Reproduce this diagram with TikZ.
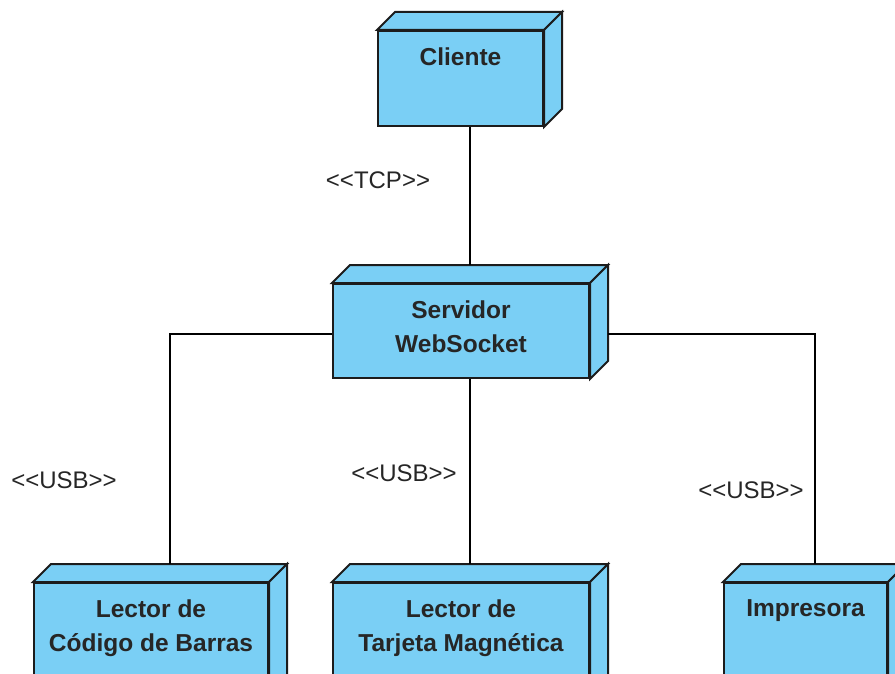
\documentclass[tikz,border=0pt]{standalone}
\usepackage{fontspec}
\setmainfont{Liberation Sans}
\newfontfamily\lblfont{Liberation Sans}
\definecolor{nodefill}{RGB}{122,207,245}
\definecolor{edgeline}{RGB}{28,28,28}
\tikzset{
  face/.style={draw=edgeline, line width=2pt, fill=nodefill, line join=miter},
  frontface/.style={face, rectangle, inner sep=0pt, anchor=north west},
  boxtext/.style={inner sep=0pt, anchor=north, align=center,
    font=\bfseries\fontsize{24.5}{34}\selectfont, text=black!85},
  conn/.style={draw=black, line width=1.6pt},
  stereo/.style={inner sep=0pt, font=\lblfont\fontsize{24}{28}\selectfont, text=black!85}
}
% UML node: front face at (x,y) with width w and height h, plus top and side faces
\newcommand{\umlnode}[6]{%
  \node[frontface, minimum width=#4pt, minimum height=#5pt] (#1) at (#2,#3) {};
  \filldraw[face] (#1.north west) -- ++(18,-18) -- ([shift={(18,-18)}]#1.north east)
    -- (#1.north east) -- cycle;
  \filldraw[face] (#1.north east) -- ++(18,-18) -- ([shift={(18,-18)}]#1.south east)
    -- (#1.south east) -- cycle;
  \coordinate (#1-back) at ([shift={(18,-18)}]#1.north);
  \coordinate (#1-side) at ([shift={(18,-18)}]#1.east);
  \node[boxtext] (#1-txt) at ([yshift=-17.5pt]#1.north) {#6};
}
\begin{document}
\begin{tikzpicture}[x=1pt, y=-1pt]
  \clip (0,0) rectangle (895,674);
  \fill[white] (0,0) rectangle (895,674);

  % vertical lines and bends of the connectors
  \coordinate (jt) at (470,0);
  \coordinate (jl) at (170,334);
  \coordinate (jr) at (815,334);

  \umlnode{cli}{377}{30}{165}{95}{Cliente}
  \umlnode{srv}{332}{283}{256}{94}{Servidor\\WebSocket}
  \umlnode{lcb}{33}{582}{234}{140}{Lector de\\Código de Barras}
  \umlnode{ltm}{332}{582}{256}{140}{Lector de\\Tarjeta Magnética}
  \umlnode{imp}{723}{582}{163}{140}{Impresora}

  \draw[conn] (cli.south -| jt) -- (srv-back -| jt);
  \draw[conn] (srv.south -| jt) -- (ltm-back -| jt);
  \draw[conn] (jl -| srv.west) -| (jl |- lcb-back);
  \draw[conn] (jr -| srv-side) -| (jr |- imp-back);

  % stereotype labels
  \node[stereo] (tcp) at (378,180) {<\kern0pt<TCP>\kern0pt>};
  \node[stereo] (usbl) at (64,480) {<\kern0pt<USB>\kern0pt>};
  \node[stereo] (usbm) at (404,473) {<\kern0pt<USB>\kern0pt>};
  \node[stereo] (usbr) at (751,490) {<\kern0pt<USB>\kern0pt>};
\end{tikzpicture}
\end{document}
